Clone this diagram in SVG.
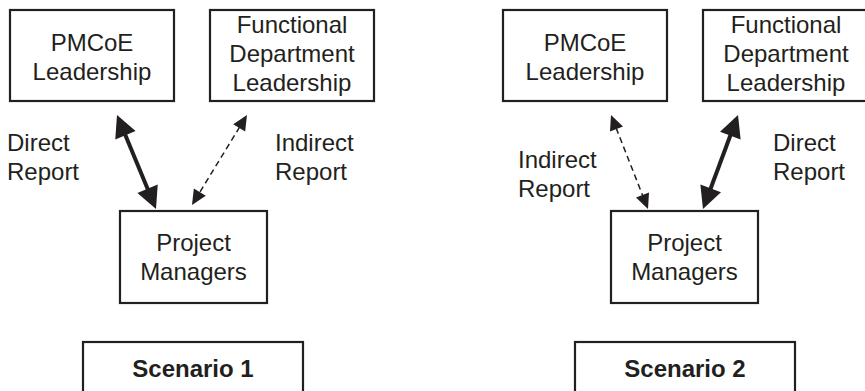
<svg xmlns="http://www.w3.org/2000/svg" width="865" height="391" viewBox="0 0 865 391">
  <style>
    .box { fill: #ffffff; stroke: #231f20; stroke-width: 2.2; }
    .t { font-family: "Liberation Sans", Arial, Helvetica, sans-serif; font-size: 24px; fill: #231f20; }
    .c { text-anchor: middle; }
    .b { font-weight: bold; }
    .thick { stroke: #231f20; stroke-width: 4; fill: none; marker-start: url(#bigHead); marker-end: url(#bigHead); }
    .dash { stroke: #231f20; stroke-width: 1.5; stroke-dasharray: 6 4; fill: none; marker-start: url(#smallHead); marker-end: url(#smallHead); }
  </style>
  <defs>
    <marker id="bigHead" markerUnits="userSpaceOnUse" markerWidth="24" markerHeight="24" refX="3" refY="11" orient="auto-start-reverse" overflow="visible">
      <path d="M0,0 L22,11 L0,22 Z" fill="#231f20"/>
    </marker>
    <marker id="smallHead" markerUnits="userSpaceOnUse" markerWidth="17" markerHeight="15" refX="1" refY="7" orient="auto-start-reverse" overflow="visible">
      <path d="M0,0 L15,7 L0,14 Z" fill="#231f20"/>
    </marker>
  </defs>
  <rect width="865" height="391" fill="#ffffff"/>

  <!-- Scenario 1 -->
  <g id="s1-pmcoe">
    <rect class="box" x="10" y="10" width="164" height="91"/>
    <text class="t c" x="92" y="51">PMCoE</text>
    <text class="t c" x="92" y="80">Leadership</text>
  </g>
  <g id="s1-functional">
    <rect class="box" x="210" y="10" width="164" height="91"/>
    <text class="t c" x="292" y="33">Functional</text>
    <text class="t c" x="292" y="62">Department</text>
    <text class="t c" x="292" y="91">Leadership</text>
  </g>
  <g id="s1-pm">
    <rect class="box" x="120" y="211" width="147" height="92"/>
    <text class="t c" x="193.5" y="251">Project</text>
    <text class="t c" x="193.5" y="280">Managers</text>
  </g>
  <g id="s1-label">
    <rect class="box" x="83" y="342" width="220" height="70"/>
    <text class="t c b" x="193" y="377">Scenario 1</text>
  </g>

  <!-- Scenario 2 -->
  <g id="s2-pmcoe">
    <rect class="box" x="503" y="10" width="164" height="91"/>
    <text class="t c" x="585" y="51">PMCoE</text>
    <text class="t c" x="585" y="80">Leadership</text>
  </g>
  <g id="s2-functional">
    <rect class="box" x="703" y="10" width="166" height="91"/>
    <text class="t c" x="786" y="33">Functional</text>
    <text class="t c" x="786" y="62">Department</text>
    <text class="t c" x="786" y="91">Leadership</text>
  </g>
  <g id="s2-pm">
    <rect class="box" x="611" y="211" width="147" height="92"/>
    <text class="t c" x="684.5" y="251">Project</text>
    <text class="t c" x="684.5" y="280">Managers</text>
  </g>
  <g id="s2-label">
    <rect class="box" x="575" y="342" width="220" height="70"/>
    <text class="t c b" x="685" y="377">Scenario 2</text>
  </g>

  <!-- Connectors -->
  <g id="connectors">
    <line class="thick" x1="124.28" y1="132.55" x2="148.72" y2="191.45"/>
    <line class="dash" x1="239.7" y1="126.95" x2="199.3" y2="193.05"/>
    <line class="dash" x1="616.13" y1="128.03" x2="642.87" y2="195.97"/>
    <line class="thick" x1="731.37" y1="132.81" x2="709.63" y2="191.19"/>
  </g>

  <!-- Connector labels -->
  <g id="labels">
    <text class="t" x="7" y="151">Direct</text>
    <text class="t" x="7" y="180">Report</text>
    <text class="t" x="275" y="151">Indirect</text>
    <text class="t" x="275" y="180">Report</text>
    <text class="t" x="518" y="168">Indirect</text>
    <text class="t" x="518" y="197">Report</text>
    <text class="t" x="773" y="151">Direct</text>
    <text class="t" x="773" y="180">Report</text>
  </g>
</svg>
